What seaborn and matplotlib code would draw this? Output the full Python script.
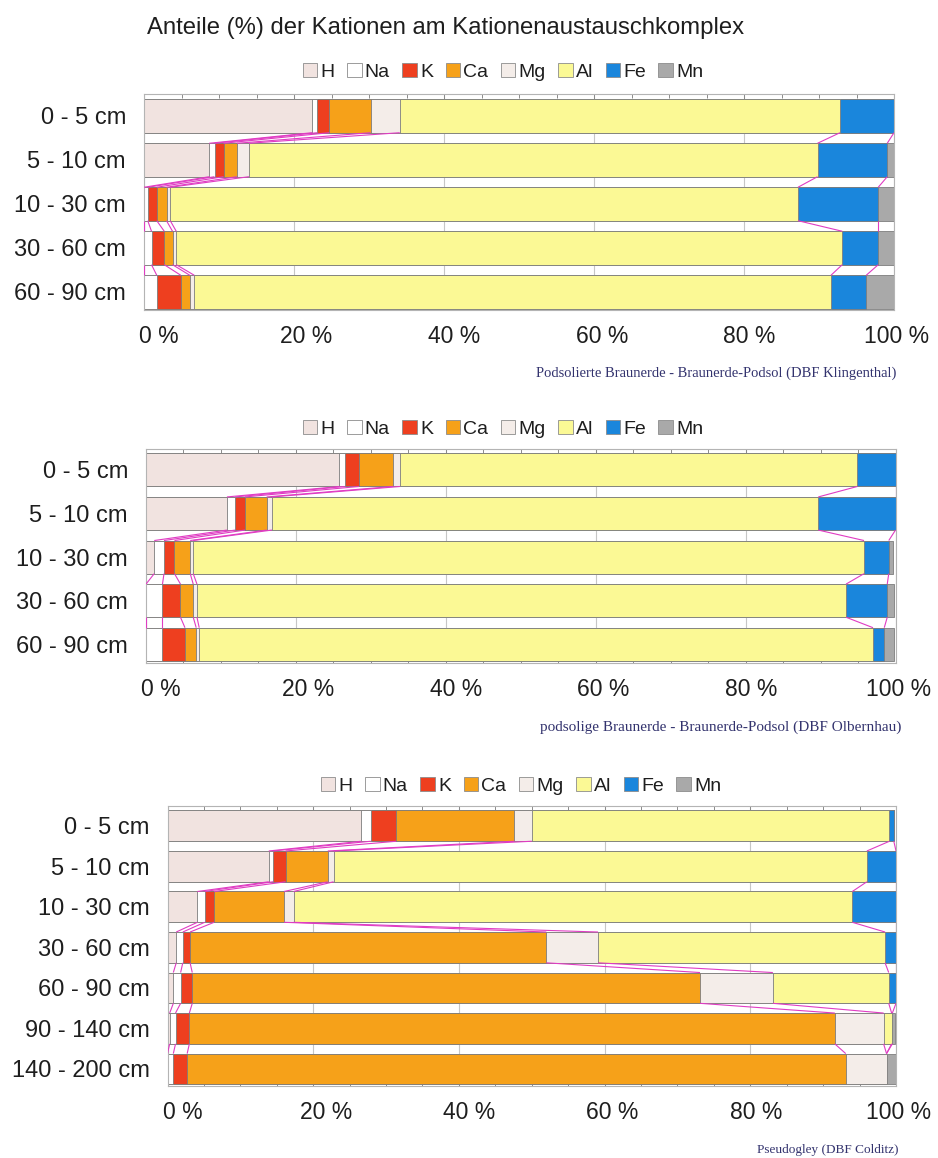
import numpy as np
import pandas as pd
import matplotlib
matplotlib.use("Agg")
import matplotlib.pyplot as plt
import seaborn as sns
from matplotlib.patches import Patch
from matplotlib.ticker import MultipleLocator
from matplotlib.transforms import ScaledTranslation

sns.set_style("white")
plt.rcParams["font.family"] = ["Liberation Sans", "DejaVu Sans"]

# exchangeable cations, in stacking order
cations = ["H", "Na", "K", "Ca", "Mg", "Al", "Fe", "Mn"]
cation_colors = ["#f1e3e0", "#ffffff", "#ee3f1f", "#f6a119", "#f4ede9",
                 "#fbf995", "#1a86dc", "#a9a9a9"]

depths_short = ["0 - 5 cm", "5 - 10 cm", "10 - 30 cm", "30 - 60 cm", "60 - 90 cm"]
depths_long = depths_short + ["90 - 140 cm", "140 - 200 cm"]

# shares (%) per depth, DBF Klingenthal
kl_H = [22.4, 8.7, 0.0, 0.0, 0.0]
kl_Na = [0.7, 0.7, 0.5, 1.0, 1.7]
kl_K = [1.6, 1.2, 1.2, 1.7, 3.2]
kl_Ca = [5.5, 1.8, 1.3, 1.1, 1.2]
kl_Mg = [3.9, 1.6, 0.5, 0.5, 0.6]
kl_Al = [58.7, 75.8, 83.7, 88.8, 84.9]
kl_Fe = [7.2, 9.3, 10.7, 4.8, 4.7]
kl_Mn = [0.0, 0.9, 2.1, 2.1, 3.7]

# shares (%) per depth, DBF Olbernhau
ol_H = [25.8, 10.8, 1.1, 0.0, 0.0]
ol_Na = [0.7, 1.1, 1.3, 2.2, 2.2]
ol_K = [1.9, 1.3, 1.4, 2.4, 3.0]
ol_Ca = [4.5, 2.9, 2.1, 1.7, 1.5]
ol_Mg = [1.0, 0.7, 0.4, 0.5, 0.4]
ol_Al = [61.0, 72.9, 89.5, 86.6, 89.9]
ol_Fe = [5.1, 10.3, 3.3, 5.5, 1.5]
ol_Mn = [0.0, 0.0, 0.6, 0.9, 1.3]

# shares (%) per depth, DBF Colditz
co_H = [26.6, 13.9, 4.1, 1.2, 0.8, 0.3, 0.0]
co_Na = [1.3, 0.6, 1.0, 0.9, 1.0, 0.8, 0.8]
co_K = [3.5, 1.7, 1.3, 1.0, 1.6, 1.9, 1.9]
co_Ca = [16.2, 5.8, 9.6, 48.9, 69.7, 88.6, 90.4]
co_Mg = [2.4, 0.8, 1.3, 7.1, 10.0, 6.7, 5.6]
co_Al = [49.1, 73.2, 76.7, 39.4, 15.9, 1.1, 0.0]
co_Fe = [0.6, 4.0, 6.0, 1.5, 1.0, 0.1, 0.0]
co_Mn = [0.0, 0.0, 0.0, 0.0, 0.0, 0.4, 1.3]

title = "Anteile (%) der Kationen am Kationenaustauschkomplex"
captions = ["Podsolierte Braunerde - Braunerde-Podsol (DBF Klingenthal)",
            "podsolige Braunerde - Braunerde-Podsol (DBF Olbernhau)",
            "Pseudogley (DBF Colditz)"]
xtick_values = [0, 20, 40, 60, 80, 100]
xtick_labels = ["0 %", "20 %", "40 %", "60 %", "80 %", "100 %"]

W, H = 938, 1158
DPI = 100
fig = plt.figure(figsize=(W / DPI, H / DPI), dpi=DPI)
fig.patch.set_facecolor("white")

EDGE = "#7d7d7d"
SERIES_LINE = "#e03cc3"
FRAME = "#b4b4b4"
BAR_H = 0.76


def px_axes(left, right, top, bottom):
    return fig.add_axes([left / W, 1 - bottom / H, (right - left) / W, (bottom - top) / H])


def draw_panel(ax, depths, shares, ylim, legend_xy, caption, caption_xy, caption_size):
    df = pd.DataFrame(dict(zip(cations, shares)), index=depths)
    cum = df.cumsum(axis=1)

    # stacked bars: cumulative totals drawn from the outermost layer inwards
    for name, col in reversed(list(zip(cations, cation_colors))):
        sns.barplot(x=cum[name].values, y=depths, orient="h", color=col,
                    saturation=1, width=BAR_H, edgecolor=EDGE, linewidth=0.6,
                    errorbar=None, ax=ax, zorder=2)

    # series lines joining the segment borders of neighbouring bars
    n = len(depths)
    for name in cations[:-1]:
        xs = cum[name].values
        for i in range(n - 1):
            ax.plot([xs[i], xs[i + 1]], [i + BAR_H / 2, i + 1 - BAR_H / 2],
                    color=SERIES_LINE, lw=0.8, zorder=3, solid_capstyle="butt")

    ax.set_xlim(0, 100)
    ax.set_ylim(*ylim)
    ax.set_xlabel("")
    ax.set_ylabel("")

    ax.set_xticks(xtick_values)
    ax.set_xticklabels(xtick_labels, fontsize=16.5, color="#1e1e1e")
    ax.xaxis.set_minor_locator(MultipleLocator(5))
    ax.tick_params(axis="x", which="both", direction="in", top=True, bottom=True,
                   color="#8a8a8a", width=0.7, pad=11)
    ax.tick_params(axis="x", which="major", length=4)
    ax.tick_params(axis="x", which="minor", length=3)
    # percent labels sit a little to the right of their ticks, more so on the left
    for v, lab in zip(xtick_values, ax.get_xticklabels()):
        shift = (15 - 12 * v / 100) / DPI
        lab.set_transform(lab.get_transform() + ScaledTranslation(shift, 0, fig.dpi_scale_trans))

    ax.tick_params(axis="y", which="major", direction="in", left=True, length=3,
                   color="#8a8a8a", width=0.7, pad=13, labelsize=17, labelcolor="#1e1e1e")

    ax.xaxis.grid(True, which="major", color="#c6c6c6", lw=0.8)
    ax.yaxis.grid(False)
    ax.set_axisbelow(True)
    for sp in ax.spines.values():
        sp.set_visible(True)
        sp.set_color(FRAME)
        sp.set_linewidth(0.8)

    handles = [Patch(facecolor=c, edgecolor="#8c8c8c", linewidth=0.6, label=n_)
               for n_, c in zip(cations, cation_colors)]
    fig.legend(handles=handles, loc="center", ncol=len(cations), frameon=False,
               bbox_to_anchor=(legend_xy[0] / W, 1 - legend_xy[1] / H),
               fontsize=14, handlelength=0.75, handleheight=0.75,
               handletextpad=0.15, columnspacing=0.65, borderaxespad=0,
               labelcolor="#1e1e1e")

    fig.text(caption_xy[0] / W, 1 - caption_xy[1] / H, caption, ha="right", va="center",
             fontsize=caption_size, color="#33336e",
             family=["Liberation Serif", "DejaVu Serif"])


ax1 = px_axes(144, 894, 94, 310)
draw_panel(ax1, depths_short, [kl_H, kl_Na, kl_K, kl_Ca, kl_Mg, kl_Al, kl_Fe, kl_Mn],
           (4.41, -0.5), (503, 72), captions[0], (896, 373), 10.5)

ax2 = px_axes(146, 895.5, 449, 663)
draw_panel(ax2, depths_short, [ol_H, ol_Na, ol_K, ol_Ca, ol_Mg, ol_Al, ol_Fe, ol_Mn],
           (4.43, -0.48), (503, 429), captions[1], (901, 727), 11)

ax3 = px_axes(167.5, 896, 806, 1086)
draw_panel(ax3, depths_long, [co_H, co_Na, co_K, co_Ca, co_Mg, co_Al, co_Fe, co_Mn],
           (6.42, -0.49), (521, 786), captions[2], (898, 1150), 9.5)

fig.text(147 / W, 1 - 28 / H, title, ha="left", va="center", fontsize=17.2, color="#1e1e1e")

fig.savefig("out.png", dpi=DPI, facecolor="white")
